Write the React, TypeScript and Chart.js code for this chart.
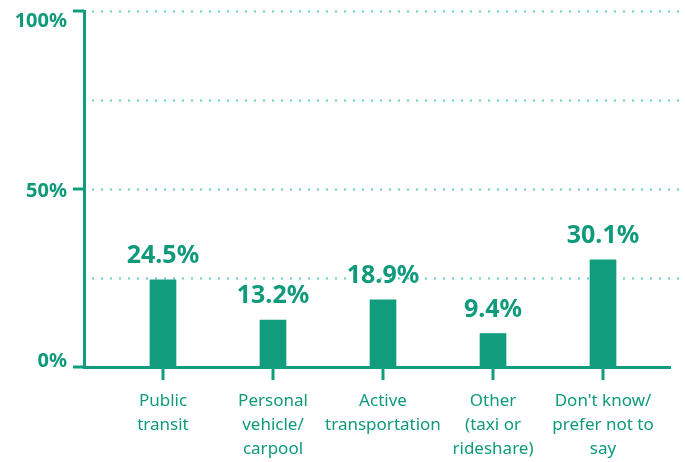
import React, { useEffect, useRef } from "react";
import { Chart, registerables } from "chart.js";

Chart.register(...registerables);

const categories: string[][] = [
  ["Public", "transit"],
  ["Personal", "vehicle/", "carpool"],
  ["Active", "transportation"],
  ["Other", "(taxi or", "rideshare)"],
  ["Don't know/", "prefer not to", "say"],
];
const values: number[] = [24.5, 13.2, 18.9, 9.4, 30.1];
const valueLabels: string[] = ["24.5%", "13.2%", "18.9%", "9.4%", "30.1%"];
const yTickValues: number[] = [0, 25, 50, 75, 100];
const yTickLabels: string[] = ["0%", "", "50%", "", "100%"];

const GREEN = "#0f9d7e";
const TEXT = "#0f9a7b";
const DOTS = "#66cfbd";
const FONT = '"Noto Sans", "Open Sans", sans-serif';

const overlayPlugin = {
  id: "overlay",
  beforeDatasetsDraw(chart: any) {
    const { ctx, chartArea, scales } = chart;
    const y = scales.y;
    ctx.save();
    ctx.strokeStyle = DOTS;
    ctx.lineWidth = 2;
    ctx.setLineDash([2, 7]);
    yTickValues.forEach((v) => {
      if (v <= 0) return;
      const py = Math.round(y.getPixelForValue(v)) + 0.5;
      ctx.beginPath();
      ctx.moveTo(chartArea.left + 8, py);
      ctx.lineTo(chart.width, py);
      ctx.stroke();
    });
    ctx.restore();
  },
  afterDatasetsDraw(chart: any) {
    const { ctx } = chart;
    const meta = chart.getDatasetMeta(0);
    ctx.save();
    ctx.fillStyle = TEXT;
    ctx.font = `bold 25px ${FONT}`;
    ctx.textAlign = "center";
    ctx.textBaseline = "alphabetic";
    meta.data.forEach((bar: any, i: number) => {
      ctx.fillText(valueLabels[i], bar.x, bar.y - 17);
    });
    ctx.restore();
  },
  afterDraw(chart: any) {
    const { ctx, chartArea, scales } = chart;
    const y = scales.y;
    ctx.save();
    ctx.fillStyle = GREEN;
    const meta = chart.getDatasetMeta(0);
    meta.data.forEach((bar: any) => {
      const px = Math.round(bar.x);
      ctx.fillRect(px - 1.5, chartArea.bottom, 3, 13);
    });
    yTickValues.forEach((v, i) => {
      if (!yTickLabels[i]) return;
      const py = Math.round(y.getPixelForValue(v));
      ctx.fillRect(chartArea.left - 11, py - 1.5, 11, 3);
    });
    ctx.fillStyle = TEXT;
    ctx.font = `bold 20px ${FONT}`;
    ctx.textAlign = "right";
    ctx.textBaseline = "alphabetic";
    yTickValues.forEach((v, i) => {
      const label = yTickLabels[i];
      if (!label) return;
      const py = y.getPixelForValue(v);
      let by = py + 8;
      if (v === y.max) by = py + 16;
      else if (v === y.min) by = py;
      ctx.fillText(label, chartArea.left - 17, by);
    });
    ctx.restore();
  },
};

export default function App() {
  const ref = useRef<HTMLCanvasElement | null>(null);
  useEffect(() => {
    if (!ref.current) return;
    const chart = new Chart(ref.current, {
      type: "bar",
      data: {
        datasets: [
          {
            data: values.map((v, i) => ({ x: i, y: v })),
            backgroundColor: GREEN,
            borderWidth: 0,
            barThickness: 26,
          },
        ],
      },
      options: {
        animation: false,
        responsive: false,
        devicePixelRatio: 1,
        layout: { padding: { top: 11, right: 15, left: 0, bottom: 0 } },
        plugins: {
          legend: { display: false },
          tooltip: { enabled: false },
        },
        scales: {
          x: {
            type: "linear",
            offset: false,
            min: -0.718,
            max: 4.609,
            afterBuildTicks: (axis: any) => {
              axis.ticks = categories.map((_, i) => ({ value: i }));
            },
            afterFit: (s: any) => {
              s.height = 95;
            },
            ticks: {
              autoSkip: false,
              maxRotation: 0,
              minRotation: 0,
              padding: 10,
              color: TEXT,
              font: { family: FONT, size: 17, lineHeight: 1.41 },
              callback: (_v: any, index: number) => categories[index],
            },
            grid: { display: false, offset: false, drawTicks: true, tickLength: 12 },
            border: { display: true, color: GREEN, width: 3 },
          },
          y: {
            min: 0,
            max: 100,
            afterBuildTicks: (axis: any) => {
              axis.ticks = yTickValues.map((v) => ({ value: v }));
            },
            afterFit: (s: any) => {
              s.width = 84;
            },
            ticks: { display: false },
            grid: { display: false },
            border: { display: true, color: GREEN, width: 3 },
          },
        },
      },
      plugins: [overlayPlugin],
    } as any);
    return () => chart.destroy();
  }, []);
  return (
    <div style={{ position: "fixed", left: 0, top: 0, width: 685, height: 462, background: "#fff" }}>
      <canvas ref={ref} width={685} height={462} style={{ display: "block" }} />
    </div>
  );
}
